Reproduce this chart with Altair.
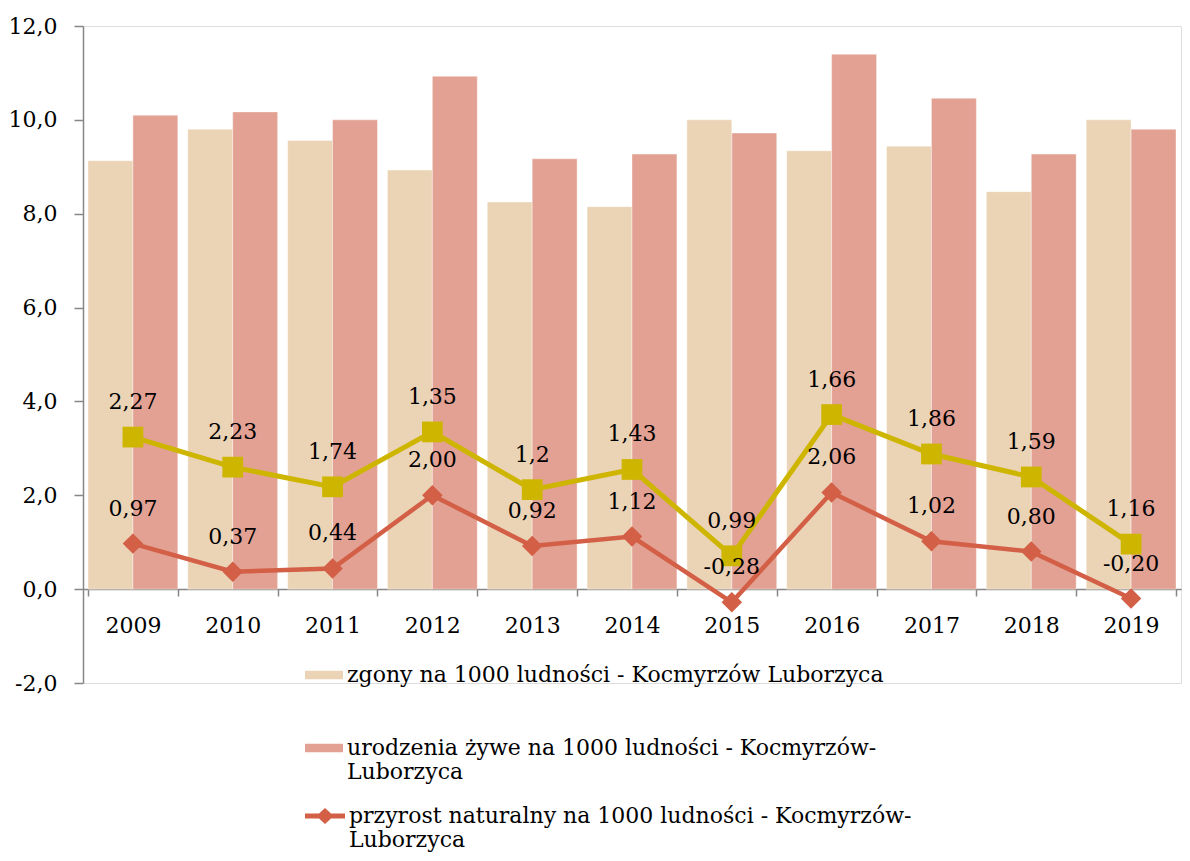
import altair as alt
import pandas as pd

# ---- data ----
lata = ["2009", "2010", "2011", "2012", "2013", "2014", "2015", "2016", "2017", "2018", "2019"]
zgony = [9.13, 9.80, 9.56, 8.93, 8.25, 8.15, 10.00, 9.34, 9.44, 8.47, 10.00]
urodzenia = [10.10, 10.17, 10.00, 10.93, 9.17, 9.27, 9.72, 11.40, 10.46, 9.27, 9.80]
przyrost = [0.97, 0.37, 0.44, 2.00, 0.92, 1.12, -0.28, 2.06, 1.02, 0.80, -0.20]
przyrost_drugi = [2.27, 2.23, 1.74, 1.35, 1.2, 1.43, 0.99, 1.66, 1.86, 1.59, 1.16]

NAZWA_Z = "zgony na 1000 ludności - Kocmyrzów Luborzyca"
NAZWA_U = "urodzenia żywe na 1000 ludności - Kocmyrzów-\nLuborzyca"
NAZWA_P = "przyrost naturalny na 1000 ludności - Kocmyrzów-\nLuborzyca"
y_ticks = [-2, 0, 2, 4, 6, 8, 10, 12]

BEIGE = "#EBD3B5"
SALMON = "#E2A192"
RED = "#D25F46"
YELLOW = "#CDB500"
AXIS_GRAY = "#878787"
FONT = "DejaVu Serif"
FS = 22

bars_df = pd.DataFrame({
    "rok": lata * 2,
    "seria": [NAZWA_Z] * len(lata) + [NAZWA_U] * len(lata),
    "wartosc": zgony + urodzenia,
})
lines_df = pd.DataFrame({
    "rok": lata,
    "przyrost": przyrost,
    "drugi": przyrost_drugi,
    "seria": [NAZWA_P] * len(lata),
})

x_enc = alt.X(
    "rok:N",
    title=None,
    scale=alt.Scale(paddingInner=0.1, paddingOuter=0.05),
    axis=alt.Axis(
        offset=-94, tickBand="extent", tickSize=7, tickWidth=1.5, tickColor=AXIS_GRAY,
        domainColor=AXIS_GRAY, domainWidth=1.5, labelFont=FONT, labelFontSize=FS,
        labelColor="black", labelPadding=19, labelAngle=0, grid=False, title=None,
    ),
)


def y_enc(field):
    return alt.Y(
        field,
        type="quantitative",
        title=None,
        scale=alt.Scale(domain=[-2, 12], nice=False, zero=False),
        axis=alt.Axis(
            values=y_ticks, labelExpr="datum.value + ',0'", tickSize=9, tickWidth=1.5,
            tickColor=AXIS_GRAY, domainColor=AXIS_GRAY, domainWidth=1.5,
            labelFont=FONT, labelFontSize=FS, labelColor="black", labelPadding=17,
            grid=False, title=None,
        ),
    )


RECT_SYMBOL = "M-1,-0.22H1V0.22H-1Z"
LINE_SYMBOL = "M-1,-0.12H-0.3L0,-0.4L0.3,-0.12H1V0.12H0.3L0,0.4L-0.3,0.12H-1Z"


def legend(symbol, size, ly):
    return alt.Legend(
        orient="none", legendX=222, legendY=ly, title=None,
        symbolType=symbol, symbolSize=size, symbolStrokeWidth=0,
        labelFont=FONT, labelFontSize=FS, labelColor="black", labelLimit=900,
        labelOffset=4, labelExpr="split(datum.label, '\\n')", padding=0,
    )


def bar_layer(name, color, ly):
    return alt.Chart(bars_df).transform_filter(
        alt.FieldEqualPredicate(field="seria", equal=name)
    ).mark_bar(stroke="white", strokeWidth=0.8, strokeOpacity=0.5).encode(
        x=x_enc,
        xOffset=alt.XOffset("seria:N", scale=alt.Scale(domain=[NAZWA_Z, NAZWA_U], paddingInner=0, paddingOuter=0)),
        y=y_enc("wartosc"),
        color=alt.Color("seria:N", scale=alt.Scale(domain=[name], range=[color]),
                        legend=legend(RECT_SYMBOL, 1444, ly)),
    )


bars_z = bar_layer(NAZWA_Z, BEIGE, 630)
bars_u = bar_layer(NAZWA_U, SALMON, 703)

base = alt.Chart(lines_df).transform_calculate(
    suma="datum.przyrost + datum.drugi",
    et_p="replace(replace(format(datum.przyrost, '.2f'), '.', ','), '\u2212', '-')",
    et_d="replace(replace(format(datum.drugi, '.2~f'), '.', ','), '\u2212', '-')",
)

yellow_line = base.mark_line(color=YELLOW, strokeWidth=5).encode(x=x_enc, y=y_enc("suma"))
yellow_pts = base.mark_point(shape="square", size=430, filled=True, opacity=1, color=YELLOW).encode(
    x=x_enc, y=y_enc("suma"))
red_line = base.mark_line(color=RED, strokeWidth=4.5).encode(x=x_enc, y=y_enc("przyrost"))
red_pts = base.mark_point(shape="diamond", size=420, filled=True, opacity=1).encode(
    x=x_enc, y=y_enc("przyrost"),
    color=alt.Color("seria:N", scale=alt.Scale(domain=[NAZWA_P], range=[RED]),
                    legend=legend(LINE_SYMBOL, 1600, 770)),
)
red_txt = base.mark_text(dy=-35, fontSize=FS, font=FONT, color="black", baseline="middle").encode(
    x=x_enc, y=y_enc("przyrost"), text="et_p:N")
yellow_txt = base.mark_text(dy=-35, fontSize=FS, font=FONT, color="black", baseline="middle").encode(
    x=x_enc, y=y_enc("suma"), text="et_d:N")

chart = alt.layer(
    bars_z, bars_u, yellow_line, red_line, red_pts, yellow_pts, red_txt, yellow_txt
).resolve_scale(
    color="independent"
).properties(
    width=1098, height=657, autosize="none",
    padding={"left": 75, "top": 18, "right": 1, "bottom": 170},
).configure_view(stroke=None).configure(background="white")

chart.save("out.html", embed_options={"renderer": "svg", "actions": False})
